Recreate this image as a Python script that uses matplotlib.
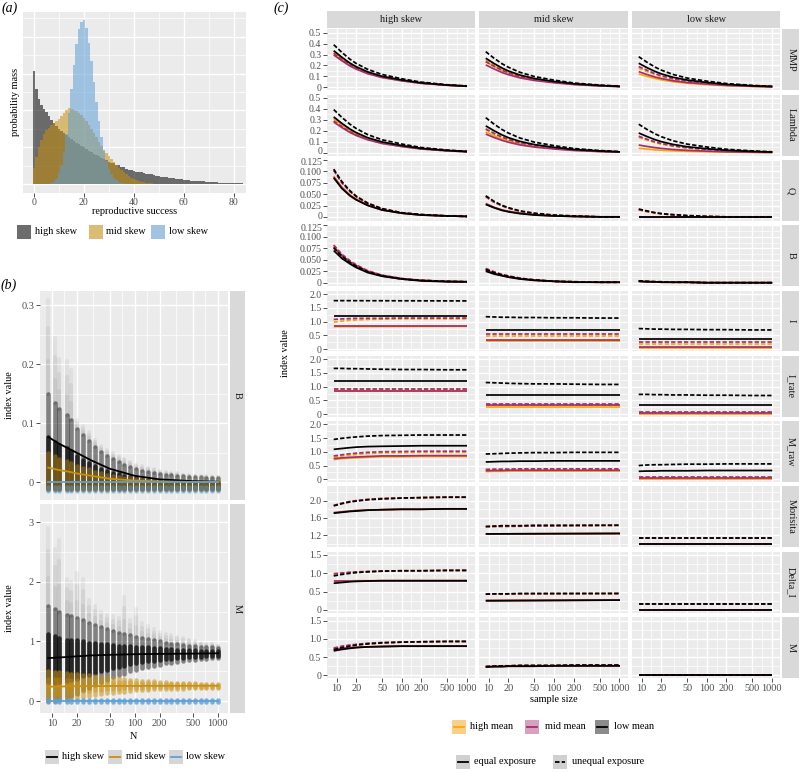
import numpy as np
import matplotlib
matplotlib.use("Agg")
import matplotlib.pyplot as plt
from matplotlib.patches import Rectangle
from matplotlib.lines import Line2D

plt.rcParams['font.family'] = ['Liberation Serif', 'DejaVu Serif']

# ---------------- panel (a): reproductive success distributions ----------------
rs_high = [0.0615, 0.0517, 0.0462, 0.0430, 0.0408, 0.0392, 0.0370, 0.0348, 0.0332, 0.0316,
           0.0299, 0.0288, 0.0277, 0.0267, 0.0256, 0.0245, 0.0234, 0.0223, 0.0215, 0.0207,
           0.0199, 0.0190, 0.0182, 0.0174, 0.0166, 0.0158, 0.0150, 0.0141, 0.0136, 0.0131,
           0.0122, 0.0117, 0.0112, 0.0106, 0.0101, 0.0095, 0.0090, 0.0084, 0.0079, 0.0076,
           0.0071, 0.0068, 0.0065, 0.0063, 0.0060, 0.0057, 0.0054, 0.0052, 0.0049, 0.0046,
           0.0044, 0.0041, 0.0038, 0.0036, 0.0034, 0.0033, 0.0031, 0.0029, 0.0027, 0.0026,
           0.0024, 0.0022, 0.0021, 0.0019, 0.0018, 0.0017, 0.0016, 0.0015, 0.0014, 0.0013,
           0.0011, 0.0010, 0.0009, 0.0009, 0.0008, 0.0007, 0.0007, 0.0006, 0.0005, 0.0005,
           0.0004, 0.0004, 0.0003, 0.0003, 0.0002]
rs_mid = [0.0087, 0.0147, 0.0201, 0.0239, 0.0272, 0.0294, 0.0305, 0.0321, 0.0332, 0.0343,
          0.0354, 0.0370, 0.0386, 0.0403, 0.0413, 0.0408, 0.0403, 0.0397, 0.0386, 0.0375,
          0.0359, 0.0343, 0.0321, 0.0299, 0.0277, 0.0256, 0.0228, 0.0207, 0.0185, 0.0169,
          0.0152, 0.0136, 0.0120, 0.0103, 0.0087, 0.0076, 0.0065, 0.0054, 0.0044, 0.0035,
          0.0027, 0.0022, 0.0016, 0.0012, 0.0009, 0.0006, 0.0004, 0.0003, 0.0002, 0.0001, 0.0001]
rs_low_start = 7
rs_low = [0.0005, 0.0013, 0.0029, 0.0058, 0.0106, 0.0176, 0.0271, 0.0387, 0.0516, 0.0646,
          0.0760, 0.0844, 0.0880, 0.0890, 0.0846, 0.0769, 0.0669, 0.0557, 0.0446, 0.0343,
          0.0254, 0.0181, 0.0125, 0.0083, 0.0054, 0.0034, 0.0020, 0.0012, 0.0007, 0.0004]
skew_labels = ["high skew", "mid skew", "low skew"]

# ---------------- panel (b): simulated index values vs N ----------------
N_b = [9, 11, 12, 15, 17, 20, 24, 28, 33, 39, 46, 54, 64, 75, 88, 104, 122, 144, 169, 199,
       235, 276, 325, 382, 450, 530, 623, 733, 863, 1016]
B_hs_lo = -0.012
B_hs_hi = [0.150, 0.135, 0.125, 0.115, 0.105, 0.090, 0.080, 0.070, 0.060, 0.052, 0.045, 0.040,
           0.035, 0.030, 0.026, 0.022, 0.020, 0.018, 0.016, 0.014, 0.013, 0.012, 0.011, 0.010,
           0.0095, 0.009, 0.0085, 0.008, 0.0075, 0.007]
B_hs_max = [0.310, 0.245, 0.210, 0.205, 0.190, 0.105, 0.095, 0.085, 0.072, 0.062, 0.055, 0.050,
            0.045, 0.040, 0.035, 0.030, 0.027, 0.024, 0.022, 0.020, 0.018, 0.016, 0.015, 0.013,
            0.012, 0.011, 0.010, 0.010, 0.0095, 0.009]
B_ms_lo = -0.013
B_ms_hi = [0.050, 0.045, 0.040, 0.036, 0.032, 0.028, 0.025, 0.022, 0.018, 0.015, 0.013, 0.011,
           0.009, 0.008, 0.007, 0.006, 0.005, 0.0045, 0.004, 0.0035, 0.003, 0.003, 0.0025, 0.0025,
           0.002, 0.002, 0.002, 0.002, 0.002, 0.002]
B_ls_lo, B_ls_hi = -0.015, -0.008
M_hs_lo = [0.00, 0.00, 0.02, 0.05, 0.08, 0.12, 0.18, 0.22, 0.27, 0.32, 0.36, 0.40, 0.43, 0.46,
           0.50, 0.52, 0.55, 0.57, 0.59, 0.61, 0.63, 0.64, 0.66, 0.67, 0.68, 0.69, 0.70, 0.71, 0.72, 0.72]
M_hs_hi = [1.60, 1.55, 1.50, 1.45, 1.42, 1.40, 1.35, 1.30, 1.27, 1.24, 1.20, 1.17, 1.14, 1.12,
           1.10, 1.08, 1.06, 1.04, 1.02, 1.00, 0.98, 0.96, 0.95, 0.94, 0.93, 0.92, 0.91, 0.90, 0.90, 0.89]
M_hs_max = [2.90, 2.55, 2.70, 2.05, 2.00, 2.15, 2.05, 1.70, 1.60, 1.50, 1.45, 1.42, 1.40, 1.75,
            1.35, 1.55, 1.30, 1.25, 1.20, 1.15, 1.12, 1.10, 1.07, 1.05, 1.03, 1.00, 0.98, 0.96, 0.95, 0.93]
M_ms_lo = [0.00, 0.00, 0.01, 0.02, 0.03, 0.05, 0.07, 0.09, 0.10, 0.12, 0.13, 0.14, 0.15, 0.16,
           0.17, 0.18, 0.185, 0.19, 0.195, 0.20, 0.20, 0.205, 0.21, 0.21, 0.215, 0.215, 0.22, 0.22, 0.22, 0.225]
M_ms_hi = [0.50, 0.49, 0.48, 0.47, 0.46, 0.45, 0.44, 0.43, 0.42, 0.41, 0.40, 0.39, 0.38, 0.37,
           0.36, 0.35, 0.34, 0.33, 0.33, 0.32, 0.32, 0.31, 0.31, 0.30, 0.30, 0.30, 0.29, 0.29, 0.29, 0.285]
M_ls_lo, M_ls_hi = -0.01, 0.01

N_line = [9, 12, 16, 20, 30, 50, 100, 200, 500, 1016]
B_hs_mean = [0.077, 0.066, 0.057, 0.050, 0.037, 0.023, 0.011, 0.005, 0.002, 0.001]
B_ms_mean = [0.025, 0.021, 0.018, 0.015, 0.011, 0.006, 0.003, 0.0015, 0.0007, 0.0003]
B_ls_mean = [0.0, 0.0]
M_hs_mean = [0.72, 0.73, 0.74, 0.75, 0.765, 0.775, 0.785, 0.79, 0.795, 0.80]
M_ms_mean = [0.24, 0.243, 0.246, 0.248, 0.25, 0.252, 0.254, 0.255, 0.256, 0.257]
M_ls_mean = [0.0, 0.0]

# ---------------- panel (c): mean index value vs sample size ----------------
# each panel: [high mean equal, high mean unequal, mid mean equal, mid mean unequal, low mean equal, low mean unequal]
MMP_high = [[0.317, 0.260, 0.209, 0.178, 0.133, 0.095, 0.063, 0.038, 0.019, 0.010],
            [0.330, 0.271, 0.218, 0.185, 0.139, 0.099, 0.066, 0.040, 0.020, 0.010],
            [0.296, 0.243, 0.195, 0.166, 0.124, 0.089, 0.059, 0.036, 0.018, 0.009],
            [0.310, 0.254, 0.205, 0.174, 0.130, 0.093, 0.062, 0.037, 0.019, 0.009],
            [0.335, 0.275, 0.221, 0.188, 0.141, 0.100, 0.067, 0.040, 0.020, 0.010],
            [0.390, 0.320, 0.257, 0.218, 0.164, 0.117, 0.078, 0.047, 0.023, 0.012]]
MMP_mid = [[0.234, 0.192, 0.154, 0.131, 0.098, 0.070, 0.047, 0.028, 0.014, 0.007],
           [0.250, 0.205, 0.165, 0.140, 0.105, 0.075, 0.050, 0.030, 0.015, 0.008],
           [0.205, 0.168, 0.135, 0.115, 0.086, 0.062, 0.041, 0.025, 0.012, 0.006],
           [0.235, 0.193, 0.155, 0.132, 0.099, 0.071, 0.047, 0.028, 0.014, 0.007],
           [0.266, 0.218, 0.176, 0.149, 0.112, 0.080, 0.053, 0.032, 0.016, 0.008],
           [0.326, 0.267, 0.215, 0.183, 0.137, 0.098, 0.065, 0.039, 0.020, 0.010]]
MMP_low = [[0.122, 0.100, 0.081, 0.068, 0.051, 0.037, 0.024, 0.015, 0.007, 0.004],
           [0.175, 0.144, 0.116, 0.098, 0.074, 0.053, 0.035, 0.021, 0.011, 0.005],
           [0.143, 0.117, 0.094, 0.080, 0.060, 0.043, 0.029, 0.017, 0.009, 0.004],
           [0.190, 0.156, 0.125, 0.106, 0.080, 0.057, 0.038, 0.023, 0.011, 0.006],
           [0.220, 0.180, 0.145, 0.123, 0.092, 0.066, 0.044, 0.026, 0.013, 0.007],
           [0.280, 0.230, 0.185, 0.157, 0.118, 0.084, 0.056, 0.034, 0.017, 0.008]]
Lambda_high = [[0.310, 0.254, 0.205, 0.174, 0.130, 0.093, 0.062, 0.037, 0.019, 0.009],
               [0.320, 0.262, 0.211, 0.179, 0.134, 0.096, 0.064, 0.038, 0.019, 0.010],
               [0.280, 0.230, 0.185, 0.157, 0.118, 0.084, 0.056, 0.034, 0.017, 0.008],
               [0.290, 0.238, 0.191, 0.162, 0.122, 0.087, 0.058, 0.035, 0.017, 0.009],
               [0.327, 0.268, 0.216, 0.183, 0.137, 0.098, 0.065, 0.039, 0.020, 0.010],
               [0.394, 0.323, 0.260, 0.221, 0.165, 0.118, 0.079, 0.047, 0.024, 0.012]]
Lambda_mid = [[0.190, 0.156, 0.125, 0.106, 0.080, 0.057, 0.038, 0.023, 0.011, 0.006],
              [0.220, 0.180, 0.145, 0.123, 0.092, 0.066, 0.044, 0.026, 0.013, 0.007],
              [0.170, 0.139, 0.112, 0.095, 0.071, 0.051, 0.034, 0.020, 0.010, 0.005],
              [0.215, 0.176, 0.142, 0.120, 0.090, 0.065, 0.043, 0.026, 0.013, 0.006],
              [0.245, 0.201, 0.162, 0.137, 0.103, 0.074, 0.049, 0.029, 0.015, 0.007],
              [0.320, 0.262, 0.211, 0.179, 0.134, 0.096, 0.064, 0.038, 0.019, 0.010]]
Lambda_low = [[0.040, 0.033, 0.026, 0.022, 0.017, 0.012, 0.008, 0.005, 0.002, 0.001],
              [0.140, 0.115, 0.092, 0.078, 0.059, 0.042, 0.028, 0.017, 0.008, 0.004],
              [0.070, 0.057, 0.046, 0.039, 0.029, 0.021, 0.014, 0.008, 0.004, 0.002],
              [0.150, 0.123, 0.099, 0.084, 0.063, 0.045, 0.030, 0.018, 0.009, 0.005],
              [0.180, 0.148, 0.119, 0.101, 0.076, 0.054, 0.036, 0.022, 0.011, 0.005],
              [0.260, 0.213, 0.172, 0.146, 0.109, 0.078, 0.052, 0.031, 0.016, 0.008]]
Q_high = [[0.090, 0.066, 0.049, 0.040, 0.027, 0.016, 0.009, 0.005, 0.003, 0.002],
          [0.104, 0.077, 0.057, 0.046, 0.031, 0.019, 0.010, 0.006, 0.003, 0.002],
          [0.088, 0.065, 0.048, 0.039, 0.026, 0.016, 0.009, 0.005, 0.003, 0.002],
          [0.102, 0.075, 0.056, 0.045, 0.030, 0.018, 0.010, 0.006, 0.003, 0.002],
          [0.086, 0.063, 0.047, 0.038, 0.026, 0.016, 0.009, 0.005, 0.003, 0.002],
          [0.105, 0.078, 0.058, 0.046, 0.031, 0.019, 0.010, 0.006, 0.003, 0.002]]
Q_mid = [[0.029, 0.021, 0.016, 0.013, 0.009, 0.005, 0.003, 0.002, 0.001, 0.001],
         [0.045, 0.033, 0.025, 0.020, 0.013, 0.008, 0.004, 0.002, 0.001, 0.001],
         [0.030, 0.022, 0.016, 0.013, 0.009, 0.006, 0.003, 0.002, 0.001, 0.001],
         [0.045, 0.033, 0.025, 0.020, 0.013, 0.008, 0.004, 0.002, 0.001, 0.001],
         [0.028, 0.021, 0.015, 0.012, 0.008, 0.005, 0.003, 0.002, 0.001, 0.001],
         [0.047, 0.035, 0.026, 0.021, 0.014, 0.009, 0.005, 0.003, 0.001, 0.001]]
Q_low = [[0.001, 0.001],
         [0.016, 0.012, 0.009, 0.008, 0.005, 0.003, 0.002, 0.001, 0.001, 0.001],
         [0.001, 0.001],
         [0.017, 0.013, 0.010, 0.008, 0.005, 0.003, 0.002, 0.001, 0.001, 0.001],
         [0.001, 0.001],
         [0.018, 0.014, 0.010, 0.008, 0.006, 0.004, 0.002, 0.001, 0.001, 0.001]]
B_high = [[0.075, 0.057, 0.044, 0.035, 0.024, 0.015, 0.008, 0.005, 0.003, 0.002],
          [0.080, 0.061, 0.046, 0.038, 0.026, 0.016, 0.009, 0.005, 0.003, 0.002],
          [0.078, 0.059, 0.045, 0.037, 0.025, 0.016, 0.009, 0.005, 0.003, 0.002],
          [0.082, 0.062, 0.048, 0.039, 0.026, 0.016, 0.009, 0.005, 0.003, 0.002],
          [0.070, 0.053, 0.041, 0.033, 0.022, 0.014, 0.008, 0.004, 0.002, 0.002],
          [0.076, 0.058, 0.044, 0.036, 0.024, 0.015, 0.008, 0.005, 0.003, 0.002]]
B_mid = [[0.027, 0.021, 0.016, 0.013, 0.009, 0.005, 0.003, 0.002, 0.001, 0.001],
         [0.030, 0.023, 0.017, 0.014, 0.010, 0.006, 0.003, 0.002, 0.001, 0.001],
         [0.028, 0.021, 0.016, 0.013, 0.009, 0.006, 0.003, 0.002, 0.001, 0.001],
         [0.031, 0.024, 0.018, 0.015, 0.010, 0.006, 0.003, 0.002, 0.001, 0.001],
         [0.025, 0.019, 0.015, 0.012, 0.008, 0.005, 0.003, 0.001, 0.001, 0.001],
         [0.029, 0.022, 0.017, 0.014, 0.009, 0.006, 0.003, 0.002, 0.001, 0.001]]
B_low = [[0.003, 0.002, 0.002, 0.001, 0.001, 0.001, 0.000, 0.000, 0.000, 0.000],
         [0.004, 0.003, 0.002, 0.002, 0.001, 0.001, 0.000, 0.000, 0.000, 0.000],
         [0.003, 0.002, 0.002, 0.001, 0.001, 0.001, 0.000, 0.000, 0.000, 0.000],
         [0.004, 0.003, 0.002, 0.002, 0.001, 0.001, 0.000, 0.000, 0.000, 0.000],
         [0.003, 0.002, 0.002, 0.001, 0.001, 0.001, 0.000, 0.000, 0.000, 0.000],
         [0.004, 0.003, 0.002, 0.002, 0.001, 0.001, 0.000, 0.000, 0.000, 0.000]]
I_high = [[0.82, 0.83],
          [0.98, 1.02, 1.05, 1.06, 1.08, 1.09, 1.10, 1.10, 1.10, 1.10],
          [0.85, 0.85],
          [1.08, 1.10, 1.11, 1.12, 1.12, 1.12, 1.13, 1.13, 1.13, 1.13],
          [1.22, 1.22],
          [1.76, 1.75]]
I_mid = [[0.30, 0.30], [0.48, 0.48], [0.35, 0.35], [0.55, 0.55], [0.70, 0.70],
         [1.18, 1.17, 1.16, 1.16, 1.15, 1.15, 1.14, 1.14, 1.13, 1.13]]
I_low = [[0.05, 0.05], [0.20, 0.20], [0.10, 0.10], [0.25, 0.25], [0.38, 0.38],
         [0.75, 0.74, 0.73, 0.73, 0.72, 0.72, 0.71, 0.71, 0.70, 0.70]]
I_rate_high = [[0.83, 0.83], [0.90, 0.90], [0.85, 0.85], [0.93, 0.93], [1.21, 1.21],
               [1.66, 1.66, 1.65, 1.65, 1.64, 1.63, 1.62, 1.62, 1.61, 1.61]]
I_rate_mid = [[0.28, 0.28], [0.33, 0.33], [0.32, 0.32], [0.38, 0.38], [0.68, 0.68],
              [1.15, 1.14, 1.13, 1.12, 1.11, 1.10, 1.10, 1.09, 1.08, 1.08]]
I_rate_low = [[0.00, 0.00], [0.05, 0.05], [0.03, 0.03], [0.09, 0.09], [0.34, 0.34],
              [0.72, 0.72, 0.71, 0.71, 0.70, 0.70, 0.69, 0.69, 0.68, 0.68]]
M_raw_high = [[0.72, 0.75, 0.77, 0.78, 0.80, 0.82, 0.82, 0.83, 0.83, 0.83],
              [0.80, 0.85, 0.88, 0.90, 0.94, 0.96, 0.97, 0.98, 0.98, 0.98],
              [0.75, 0.78, 0.80, 0.81, 0.83, 0.85, 0.85, 0.86, 0.86, 0.86],
              [0.85, 0.89, 0.93, 0.95, 0.98, 1.00, 1.01, 1.02, 1.02, 1.02],
              [1.09, 1.12, 1.15, 1.17, 1.19, 1.20, 1.21, 1.22, 1.22, 1.22],
              [1.45, 1.49, 1.52, 1.54, 1.57, 1.59, 1.60, 1.61, 1.61, 1.61]]
M_raw_mid = [[0.28, 0.29, 0.29, 0.30, 0.30, 0.30, 0.30, 0.30, 0.30, 0.30],
             [0.33, 0.34, 0.34, 0.35, 0.35, 0.35, 0.35, 0.35, 0.35, 0.35],
             [0.31, 0.32, 0.32, 0.33, 0.33, 0.33, 0.33, 0.33, 0.33, 0.33],
             [0.36, 0.37, 0.37, 0.37, 0.38, 0.38, 0.38, 0.38, 0.38, 0.38],
             [0.63, 0.64, 0.65, 0.65, 0.66, 0.66, 0.67, 0.67, 0.67, 0.67],
             [0.92, 0.93, 0.94, 0.95, 0.96, 0.97, 0.97, 0.98, 0.98, 0.98]]
M_raw_low = [[0.02, 0.02], [0.05, 0.05], [0.04, 0.04], [0.08, 0.08],
             [0.29, 0.30, 0.30, 0.31, 0.31, 0.31, 0.32, 0.32, 0.32, 0.32],
             [0.50, 0.52, 0.53, 0.53, 0.54, 0.55, 0.55, 0.56, 0.56, 0.56]]
Morisita_high = [[1.72, 1.74, 1.76, 1.77, 1.78, 1.79, 1.80, 1.80, 1.81, 1.81],
                 [1.89, 1.94, 1.98, 2.00, 2.03, 2.05, 2.06, 2.07, 2.08, 2.08],
                 [1.72, 1.74, 1.76, 1.77, 1.78, 1.79, 1.80, 1.80, 1.81, 1.81],
                 [1.89, 1.94, 1.98, 2.00, 2.03, 2.05, 2.06, 2.07, 2.08, 2.08],
                 [1.71, 1.73, 1.75, 1.76, 1.78, 1.79, 1.80, 1.80, 1.81, 1.81],
                 [1.88, 1.93, 1.97, 1.99, 2.02, 2.04, 2.06, 2.07, 2.08, 2.08]]
Morisita_mid = [[1.23, 1.24], [1.40, 1.43], [1.23, 1.24], [1.40, 1.43], [1.23, 1.24],
                [1.40, 1.41, 1.42, 1.42, 1.42, 1.43, 1.43, 1.43, 1.43, 1.43]]
Morisita_low = [[0.99, 0.99], [1.13, 1.13], [0.99, 0.99], [1.13, 1.13], [0.99, 0.99], [1.13, 1.13]]
Delta_I_high = [[0.78, 0.79, 0.79, 0.80, 0.80, 0.80, 0.80, 0.80, 0.80, 0.80],
                [0.97, 1.00, 1.02, 1.03, 1.05, 1.06, 1.07, 1.07, 1.08, 1.08],
                [0.80, 0.80, 0.80, 0.80, 0.80, 0.80, 0.80, 0.80, 0.80, 0.80],
                [0.99, 1.01, 1.03, 1.04, 1.05, 1.06, 1.07, 1.07, 1.08, 1.08],
                [0.73, 0.75, 0.77, 0.78, 0.79, 0.80, 0.80, 0.80, 0.80, 0.80],
                [0.93, 0.97, 1.00, 1.02, 1.04, 1.06, 1.07, 1.07, 1.08, 1.08]]
Delta_I_mid = [[0.26, 0.27], [0.44, 0.45], [0.26, 0.27], [0.44, 0.45], [0.25, 0.27],
               [0.43, 0.44, 0.44, 0.44, 0.45, 0.45, 0.45, 0.45, 0.45, 0.45]]
Delta_I_low = [[0.0, 0.0], [0.16, 0.16], [0.0, 0.0], [0.16, 0.16], [0.0, 0.0], [0.16, 0.16]]
M_high = [[0.70, 0.73, 0.75, 0.76, 0.78, 0.79, 0.80, 0.80, 0.80, 0.80],
          [0.73, 0.78, 0.82, 0.84, 0.87, 0.89, 0.91, 0.92, 0.92, 0.93],
          [0.72, 0.74, 0.76, 0.77, 0.78, 0.79, 0.80, 0.80, 0.80, 0.80],
          [0.75, 0.80, 0.83, 0.85, 0.88, 0.90, 0.91, 0.92, 0.93, 0.93],
          [0.67, 0.71, 0.74, 0.76, 0.78, 0.79, 0.80, 0.80, 0.80, 0.80],
          [0.70, 0.76, 0.80, 0.83, 0.86, 0.89, 0.91, 0.92, 0.93, 0.93]]
M_mid = [[0.23, 0.24, 0.24, 0.25, 0.25, 0.25, 0.26, 0.26, 0.26, 0.26],
         [0.24, 0.25, 0.26, 0.26, 0.27, 0.27, 0.27, 0.28, 0.28, 0.28],
         [0.23, 0.24, 0.24, 0.25, 0.25, 0.25, 0.26, 0.26, 0.26, 0.26],
         [0.24, 0.25, 0.26, 0.26, 0.27, 0.27, 0.27, 0.28, 0.28, 0.28],
         [0.23, 0.24, 0.24, 0.25, 0.25, 0.25, 0.26, 0.26, 0.26, 0.26],
         [0.24, 0.25, 0.26, 0.26, 0.27, 0.27, 0.27, 0.28, 0.28, 0.28]]
M_low = [[0.0, 0.0], [0.0, 0.0], [0.0, 0.0], [0.0, 0.0], [0.0, 0.0], [0.0, 0.0]]

row_names = ["MMP", "Lambda", "Q", "B", "I", "I_rate", "M_raw", "Morisita", "Delta_I", "M"]
col_names = ["high skew", "mid skew", "low skew"]
mean_labels = ["high mean", "mid mean", "low mean"]
exposure_labels = ["equal exposure", "unequal exposure"]
panel_data = [
    [MMP_high, MMP_mid, MMP_low], [Lambda_high, Lambda_mid, Lambda_low],
    [Q_high, Q_mid, Q_low], [B_high, B_mid, B_low], [I_high, I_mid, I_low],
    [I_rate_high, I_rate_mid, I_rate_low], [M_raw_high, M_raw_mid, M_raw_low],
    [Morisita_high, Morisita_mid, Morisita_low], [Delta_I_high, Delta_I_mid, Delta_I_low],
    [M_high, M_mid, M_low]]

# ---------------- styling ----------------
W, H = 799, 773
fig = plt.figure(figsize=(W / 100, H / 100), dpi=100)
BG = '#EBEBEB'
STRIP = '#D9D9D9'
TICKC = '#4D4D4D'
FS = 7.4
YFS = 7.0
SKEW_COL = ['#000000', '#C8900E', '#5E9FD6']
MEAN_COL = ['#FCA50A', '#A0306E', '#000000']
DASH = (0, (2.5, 1.2))


def ax_at(x0, y0, x1, y1):
    return fig.add_axes([x0 / W, 1 - y1 / H, (x1 - x0) / W, (y1 - y0) / H])


def style(ax):
    ax.set_facecolor(BG)
    for s in ax.spines.values():
        s.set_visible(False)
    ax.set_axisbelow(True)
    ax.grid(which='major', color='white', lw=1.0)
    ax.grid(which='minor', color='white', lw=0.5)
    ax.tick_params(which='major', length=2.8, width=0.6, color='#333333', labelsize=FS,
                   labelcolor=TICKC, pad=1.5)
    ax.tick_params(which='minor', length=0)


def log_x(ax, show_labels):
    ax.set_xscale('log')
    ax.set_xlim(7.17, 1335)
    ax.set_xticks([10, 20, 50, 100, 200, 500, 1000])
    ax.set_xticks([14.14, 31.62, 70.71, 141.4, 316.2, 707.1], minor=True)
    if show_labels:
        ax.set_xticklabels(['10', '20', '50', '100', '200', '500', '1000'])
    else:
        ax.set_xticklabels([])
        ax.tick_params(axis='x', which='major', length=0)
    ax.xaxis.set_minor_formatter(plt.NullFormatter())


def strip(x0, y0, x1, y1, text, rot=0):
    s = ax_at(x0, y0, x1, y1)
    s.set_facecolor(STRIP)
    s.set_xticks([]); s.set_yticks([])
    for sp in s.spines.values():
        sp.set_visible(False)
    s.text(0.5, 0.5, text, rotation=rot, ha='center', va='center', fontsize=FS,
           color='#1A1A1A', transform=s.transAxes)


# ---------------- panel (a) ----------------
axa = ax_at(22.7, 12, 246, 192.7)
style(axa)
axa.bar(range(len(rs_high)), rs_high, width=1.0, color=SKEW_COL[0], alpha=0.55, lw=0)
axa.bar(range(len(rs_mid)), rs_mid, width=1.0, color=SKEW_COL[1], alpha=0.55, lw=0)
axa.bar(range(rs_low_start, rs_low_start + len(rs_low)), rs_low, width=1.0,
        color=SKEW_COL[2], alpha=0.55, lw=0)
axa.set_xlim(-4.42, 84.9)
axa.set_ylim(-0.0047, 0.0935)
axa.set_xticks([0, 20, 40, 60, 80])
axa.set_xticks([10, 30, 50, 70], minor=True)
axa.set_yticks([0, 0.02, 0.04, 0.06, 0.08])
axa.set_yticks([0.01, 0.03, 0.05, 0.07, 0.09], minor=True)
axa.set_yticklabels([])
axa.tick_params(axis='y', which='major', length=0)
axa.tick_params(axis='x', which='major', pad=0.8, labelsize=7.1)

# ---------------- panel (b) ----------------
def scatter_cols(ax, N, lo, hi, top, color, a_core, a_inner, inner, a_tail):
    lo_arr = np.broadcast_to(np.asarray(lo, float), (len(N),))
    hi_arr = np.broadcast_to(np.asarray(hi, float), (len(N),))
    lc = ax.vlines(N, lo_arr, hi_arr, color=color, lw=3.3, alpha=a_core)
    lc.set_capstyle('round')
    if a_inner > 0:
        span = hi_arr - lo_arr
        lc = ax.vlines(N, lo_arr + inner[0] * span, lo_arr + inner[1] * span, color=color,
                       lw=3.3, alpha=a_inner)
        lc.set_capstyle('round')
    if top is not None:
        top_arr = np.asarray(top, float)
        for f in (0.35, 0.7, 1.0):
            lc = ax.vlines(N, hi_arr, hi_arr + f * (top_arr - hi_arr), color=color, lw=3.0,
                           alpha=a_tail)
            lc.set_capstyle('round')


def mean_line(ax, vals, color):
    xs = N_line if len(vals) == len(N_line) else [N_line[0], N_line[-1]]
    ax.plot(xs, vals, color=color, lw=1.3)


axb1 = ax_at(40, 290.7, 228, 500)
style(axb1)
log_x(axb1, False)
scatter_cols(axb1, N_b, B_hs_lo, B_hs_hi, B_hs_max, SKEW_COL[0], 0.45, 0.7, (0.0, 0.55), 0.05)
scatter_cols(axb1, N_b, B_ms_lo, B_ms_hi, None, SKEW_COL[1], 0.45, 0, None, 0)
scatter_cols(axb1, N_b, B_ls_lo, B_ls_hi, None, SKEW_COL[2], 0.5, 0, None, 0)
mean_line(axb1, B_hs_mean, SKEW_COL[0])
mean_line(axb1, B_ms_mean, SKEW_COL[1])
mean_line(axb1, B_ls_mean, SKEW_COL[2])
axb1.set_ylim(-0.03, 0.325)
axb1.set_yticks([0, 0.1, 0.2, 0.3])
axb1.set_yticklabels(['0', '0.1', '0.2', '0.3'])
axb1.set_yticks([0.05, 0.15, 0.25], minor=True)
strip(229.5, 290.7, 245, 500, 'B', rot=270)

axb2 = ax_at(40, 503.5, 228, 713)
style(axb2)
log_x(axb2, True)
scatter_cols(axb2, N_b, M_hs_lo, M_hs_hi, M_hs_max, SKEW_COL[0], 0.45, 0.7, (0.2, 0.7), 0.05)
scatter_cols(axb2, N_b, M_ms_lo, M_ms_hi, None, SKEW_COL[1], 0.55, 0.4, (0.25, 0.75), 0)
scatter_cols(axb2, N_b, M_ls_lo, M_ls_hi, None, SKEW_COL[2], 0.8, 0, None, 0)
mean_line(axb2, M_hs_mean, SKEW_COL[0])
mean_line(axb2, M_ms_mean, SKEW_COL[1])
mean_line(axb2, M_ls_mean, SKEW_COL[2])
axb2.set_ylim(-0.2, 3.31)
axb2.set_yticks([0, 1, 2, 3])
axb2.set_yticklabels(['0', '1', '2', '3'])
axb2.set_yticks([0.5, 1.5, 2.5], minor=True)
strip(229.5, 503.5, 245, 713, 'M', rot=270)

# ---------------- panel (c) ----------------
col_x = [(327.3, 474.7), (479.3, 627.7), (632.3, 780)]
row_cfg = [
    ((-0.027, 0.531), [0, 0.1, 0.2, 0.3, 0.4, 0.5], ['0', '0.1', '0.2', '0.3', '0.4', '0.5'], [0.05, 0.15, 0.25, 0.35, 0.45]),
    ((-0.026, 0.531), [0, 0.1, 0.2, 0.3, 0.4, 0.5], ['0', '0.1', '0.2', '0.3', '0.4', '0.5'], [0.05, 0.15, 0.25, 0.35, 0.45]),
    ((-0.0076, 0.1252), [0, 0.025, 0.05, 0.075, 0.1, 0.125], ['0', '0.025', '0.050', '0.075', '0.100', '0.125'], [0.0125, 0.0375, 0.0625, 0.0875, 0.1125]),
    ((-0.0074, 0.1252), [0, 0.025, 0.05, 0.075, 0.1, 0.125], ['0', '0.025', '0.050', '0.075', '0.100', '0.125'], [0.0125, 0.0375, 0.0625, 0.0875, 0.1125]),
    ((-0.076, 2.127), [0, 0.5, 1, 1.5, 2], ['0', '0.5', '1.0', '1.5', '2.0'], [0.25, 0.75, 1.25, 1.75]),
    ((-0.087, 2.116), [0, 0.5, 1, 1.5, 2], ['0', '0.5', '1.0', '1.5', '2.0'], [0.25, 0.75, 1.25, 1.75]),
    ((-0.098, 2.116), [0, 0.5, 1, 1.5, 2], ['0', '0.5', '1.0', '1.5', '2.0'], [0.25, 0.75, 1.25, 1.75]),
    ((0.92, 2.33), [1.2, 1.6, 2.0], ['1.2', '1.6', '2.0'], [1.0, 1.4, 1.8, 2.2]),
    ((-0.071, 1.59), [0, 0.5, 1, 1.5], ['0', '0.5', '1.0', '1.5'], [0.25, 0.75, 1.25]),
    ((-0.071, 1.60), [0, 0.5, 1, 1.5], ['0', '0.5', '1.0', '1.5'], [0.25, 0.75, 1.25]),
]
# tick labels that sit at a row edge, drawn with a small nudge so neighbours stay apart
nudged = {(1, 0): -2.0, (2, 0): -2.0, (2, 5): 2.0, (3, 5): 2.0}
ROW0, PITCH, RH = 29.3, 65.3, 60.9
extra_labels = []
for r in range(10):
    y0 = ROW0 + r * PITCH
    y1 = y0 + RH
    ylim, yt, ytl, ymin = row_cfg[r]
    for c in range(3):
        x0, x1 = col_x[c]
        ax = ax_at(x0, y0, x1, y1)
        style(ax)
        log_x(ax, r == 9)
        lines = panel_data[r][c]
        for m in range(3):
            for e in range(2):
                vals = lines[2 * m + e]
                xs = N_line if len(vals) == len(N_line) else [N_line[0], N_line[-1]]
                ax.plot(xs, vals, color=MEAN_COL[m], lw=1.25,
                        linestyle='-' if e == 0 else DASH, solid_capstyle='butt')
        ax.set_ylim(*ylim)
        ax.set_yticks(yt)
        ax.set_yticks(ymin, minor=True)
        if c == 0:
            shown = []
            for k, lab in enumerate(ytl):
                if (r, k) in nudged:
                    frac = (yt[k] - ylim[0]) / (ylim[1] - ylim[0])
                    ypix = y1 - frac * RH + nudged[(r, k)]
                    extra_labels.append((x0 - 4.9, ypix, lab))
                    shown.append('')
                else:
                    shown.append(lab)
            ax.set_yticklabels(shown)
            ax.tick_params(axis='y', labelsize=YFS)
        else:
            ax.set_yticklabels([])
            ax.tick_params(axis='y', which='major', length=0)
    strip(781.5, y0, 800, y1, row_names[r], rot=270)
for c in range(3):
    strip(col_x[c][0], 10.7, col_x[c][1], 28.0, col_names[c])

# ---------------- overlay: labels and legends ----------------
ov = fig.add_axes([0, 0, 1, 1], facecolor='none')
ov.set_xlim(0, W)
ov.set_ylim(H, 0)
ov.axis('off')

for (tx, ty, lab) in extra_labels:
    ov.text(tx, ty, lab, fontsize=YFS, color=TICKC, ha='right', va='center_baseline')

ov.text(10, 8, '(a)', fontsize=10, style='italic', ha='center', va='center')
ov.text(9, 285, '(b)', fontsize=10, style='italic', ha='center', va='center')
ov.text(281, 8, '(c)', fontsize=10, style='italic', ha='center', va='center')
ov.text(16, 102.3, 'probability mass', fontsize=FS, rotation=90, ha='center', va='center')
ov.text(134.3, 212, 'reproductive success', fontsize=FS, ha='center', va='center')
ov.text(9.5, 395, 'index value', fontsize=FS, rotation=90, ha='center', va='center')
ov.text(9.5, 608, 'index value', fontsize=FS, rotation=90, ha='center', va='center')
ov.text(133.3, 736.5, 'N', fontsize=FS, ha='center', va='center')
ov.text(285, 353, 'index value', fontsize=FS, rotation=90, ha='center', va='center')
ov.text(553.7, 700, 'sample size', fontsize=FS, ha='center', va='center')

# legend (a)
for i, (kx, tx) in enumerate([(17, 35), (88.5, 106.5), (151, 169)]):
    ov.add_patch(Rectangle((kx, 225), 14, 14, facecolor='#F2F2F2', edgecolor='none'))
    ov.add_patch(Rectangle((kx, 225), 14, 14, facecolor=SKEW_COL[i], alpha=0.55, edgecolor='none'))
    ov.text(tx, 232, skew_labels[i], fontsize=FS, ha='left', va='center')

# legend (b)
for i, (kx, tx) in enumerate([(45, 62.3), (108, 126), (169, 185.7)]):
    ov.add_patch(Rectangle((kx, 749.5), 14, 14, facecolor='#D6D6D6', edgecolor='none'))
    ov.add_line(Line2D([kx + 2, kx + 12], [756.5, 756.5], color=SKEW_COL[i], lw=1.3))
    ov.text(tx, 756.5, skew_labels[i], fontsize=FS, ha='left', va='center')

# legend (c) colour
key_fill = ['#F9D089', '#D7A0BD', '#8C8C8C']
for i, (kx, tx) in enumerate([(451.5, 470), (524.5, 545), (594.5, 614)]):
    ov.add_patch(Rectangle((kx, 719.5), 14, 14.5, facecolor=key_fill[i], edgecolor='none'))
    ov.add_line(Line2D([kx + 2, kx + 12], [726.7, 726.7], color=MEAN_COL[i], lw=1.3))
    ov.text(tx, 726.7, mean_labels[i], fontsize=FS, ha='left', va='center')
# legend (c) linetype
for i, (kx, tx) in enumerate([(455.7, 474.3), (552.7, 571.7)]):
    ov.add_patch(Rectangle((kx, 754.5), 14, 14.5, facecolor='#D0D0D0', edgecolor='none'))
    ov.add_line(Line2D([kx + 2, kx + 12], [761.7, 761.7], color='black', lw=1.3,
                       linestyle='-' if i == 0 else DASH))
    ov.text(tx, 761.7, exposure_labels[i], fontsize=FS, ha='left', va='center')

fig.savefig('out.png', dpi=100)
